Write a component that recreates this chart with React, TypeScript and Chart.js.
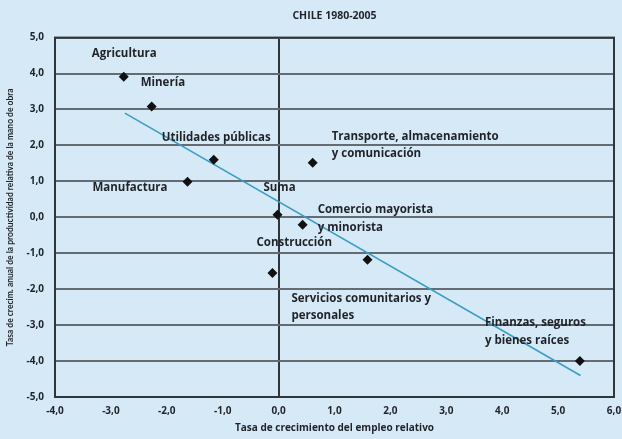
import React, { useEffect, useRef } from "react";
import { Chart, registerables } from "chart.js";

Chart.register(...registerables);

const sectorLabels: string[][] = [
  ["Agricultura"],
  ["Minería"],
  ["Utilidades públicas"],
  ["Manufactura"],
  ["Transporte, almacenamiento", "y comunicación"],
  ["Suma"],
  ["Comercio mayorista", "y minorista"],
  ["Construcción"],
  ["Servicios comunitarios y", "personales"],
  ["Finanzas, seguros", "y bienes raíces"],
];
const empleoRelativo = [-2.77, -2.27, -1.16, -1.63, 0.61, -0.02, 0.43, -0.11, 1.59, 5.39];
const productividadRelativa = [3.91, 3.08, 1.6, 0.99, 1.52, 0.07, -0.21, -1.55, -1.18, -4.0];
const trendX = [-2.75, 5.4];
const trendY = [2.9, -4.4];
const xTicks = [-4, -3, -2, -1, 0, 1, 2, 3, 4, 5, 6];
const yTicks = [-5, -4, -3, -2, -1, 0, 1, 2, 3, 4, 5];
const chartTitle = "CHILE 1980-2005";
const xTitle = "Tasa de crecimiento del empleo relativo";
const yTitle = "Tasa de crecim. anual de la productividad relativa de la mano de obra";

// label placement (pixel offsets from point, left-aligned text)
const labelOffsets: [number, number][] = [
  [-32, -23],
  [-11, -24],
  [-52, -22],
  [-95, 6],
  [19, -26],
  [-14, -27],
  [15, -15],
  [-16, -30],
  [-76, 39],
  [-95, -38],
];

const BG = "#d6e9f7";
const FONT = "'Open Sans', Lato, sans-serif";
const FONT2 = "Lato, 'Open Sans', sans-serif";
const fmt = (v: number) => v.toFixed(1).replace(".", ",");

const labelPlugin = {
  id: "sectorLabels",
  afterDatasetsDraw(chart: any) {
    const meta = chart.getDatasetMeta(0);
    const ctx = chart.ctx;
    ctx.save();
    ctx.fillStyle = "#1f2328";
    ctx.font = `bold 11.5px ${FONT}`;
    ctx.textAlign = "left";
    ctx.textBaseline = "middle";
    meta.data.forEach((pt: any, i: number) => {
      const lines = sectorLabels[i];
      const [dx, dy] = labelOffsets[i];
      lines.forEach((ln, j) => {
        ctx.fillText(ln, pt.x + dx, pt.y + dy + j * 17.5);
      });
    });
    ctx.restore();
  },
};

const framePlugin = {
  id: "frame",
  afterDatasetsDraw(chart: any) {
    const { left, right, top, bottom } = chart.chartArea;
    const ctx = chart.ctx;
    ctx.save();
    ctx.strokeStyle = "#2f353b";
    ctx.lineWidth = 2;
    ctx.strokeRect(left, top, right - left, bottom - top);
    ctx.restore();
  },
};

const bgPlugin = {
  id: "bg",
  beforeDraw(chart: any) {
    const ctx = chart.ctx;
    ctx.save();
    ctx.fillStyle = BG;
    ctx.fillRect(0, 0, chart.width, chart.height);
    ctx.restore();
  },
};

export default function App() {
  const ref = useRef<HTMLCanvasElement | null>(null);
  useEffect(() => {
    if (!ref.current) return;
    const chart = new Chart(ref.current, {
      type: "scatter",
      data: {
        datasets: [
          {
            label: "Sectores",
            data: empleoRelativo.map((x, i) => ({ x, y: productividadRelativa[i] })),
            pointStyle: "rectRot",
            pointRadius: 5,
            pointHoverRadius: 5,
            backgroundColor: "#111",
            borderColor: "#111",
            borderWidth: 0,
            order: 0,
          },
          {
            label: "Tendencia",
            type: "line",
            data: trendX.map((x, i) => ({ x, y: trendY[i] })),
            borderColor: "#3a9dc6",
            borderWidth: 1.6,
            pointRadius: 0,
            showLine: true,
            fill: false,
            order: 1,
          } as any,
        ],
      },
      options: {
        responsive: false,
        animation: false,
        layout: { padding: { left: 0, right: 0, top: 0, bottom: 0 } },
        plugins: {
          legend: { display: false },
          tooltip: { enabled: false },
          title: {
            display: true,
            text: chartTitle,
            fullSize: false,
            color: "#1f2328",
            font: { family: FONT, size: 10.5, weight: "bold" },
            padding: { top: 10, bottom: 15 },
          },
        },
        scales: {
          x: {
            type: "linear",
            min: -4,
            max: 6,
            afterBuildTicks: (s: any) => {
              s.ticks = xTicks.map((v) => ({ value: v }));
            },
            afterFit: (s: any) => {
              s.height = 42;
              s.paddingRight = 8;
              s.paddingLeft = 0;
            },
            ticks: {
              callback: (v: any) => fmt(Number(v)),
              color: "#1f2328",
              font: { family: FONT, size: 10, weight: "bold" },
              padding: 8,
              maxRotation: 0,
            },
            grid: {
              drawTicks: false,
              color: (c: any) => (c.tick && c.tick.value === 0 ? "#2f353b" : "rgba(0,0,0,0)"),
              lineWidth: 2,
            },
            border: { display: false },
            title: {
              display: true,
              text: xTitle,
              color: "#1f2328",
              font: { family: FONT, size: 10, weight: "bold" },
              padding: { top: 0, bottom: 5 },
            },
          },
          y: {
            type: "linear",
            min: -5,
            max: 5,
            afterBuildTicks: (s: any) => {
              s.ticks = yTicks.map((v) => ({ value: v }));
            },
            afterFit: (s: any) => {
              s.width = 55;
            },
            ticks: {
              callback: (v: any) => fmt(Number(v)),
              color: "#1f2328",
              font: { family: FONT, size: 10, weight: "bold" },
              padding: 11,
            },
            grid: {
              drawTicks: false,
              color: "#646b72",
              lineWidth: 2,
            },
            border: { display: false },
            title: {
              display: true,
              text: yTitle,
              color: "#1f2328",
              font: { family: FONT2, size: 8.5, weight: "bold" },
              padding: { top: 5, bottom: 0 },
            },
          },
        },
      } as any,
      plugins: [bgPlugin, framePlugin, labelPlugin],
    });
    return () => chart.destroy();
  }, []);
  return (
    <div
      style={{
        position: "fixed",
        left: 0,
        top: 0,
        width: 622,
        height: 439,
        background: BG,
      }}
    >
      <canvas ref={ref} width={622} height={439} style={{ display: "block" }} />
    </div>
  );
}
